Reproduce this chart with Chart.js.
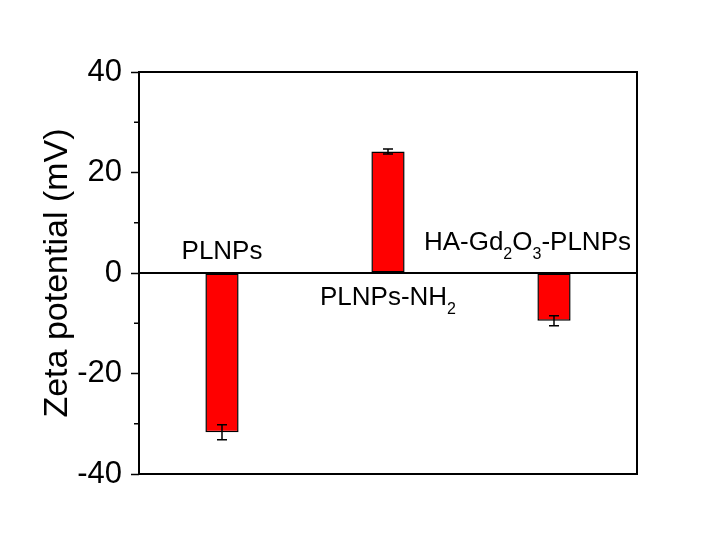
<!DOCTYPE html>
<html>
<head>
<meta charset="utf-8">
<script src="https://cdn.jsdelivr.net/npm/chart.js@4/dist/chart.umd.min.js"></script>
<style>
    html, body { margin: 0; padding: 0; background: #fff; }
    canvas { display: block; }
</style>
</head>
<body>
<canvas id="chart" width="726" height="558"></canvas>
<script>
const categories = ["PLNPs", "PLNPs-NH2", "HA-Gd2O3-PLNPs"];
const zetaValues = [-31.7, 24.2, -9.5];
const zetaErrors = [1.5, 0.5, 1.0];
const minorTicks = [30, 10, -10, -30];

// bar labels as [text, isSubscript] pieces
const labelParts = [
    [["PLNPs", false]],
    [["PLNPs-NH", false], ["2", true]],
    [["HA-Gd", false], ["2", true], ["O", false], ["3", true], ["-PLNPs", false]]
];
const labelX = [0, 1, 1.84]; // category units
const labelY = [2.7, -6.4, 4.5]; // mV, text baseline

const FONT = "'Liberation Sans', Arial, sans-serif";

const decorations = {
    id: "decorations",
    afterDatasetsDraw(chart) {
        const { ctx, chartArea: area, scales: { x, y } } = chart;
        ctx.save();
        ctx.strokeStyle = "#000";
        ctx.fillStyle = "#000";

        // zero line
        const y0 = y.getPixelForValue(0);
        ctx.lineWidth = 2;
        ctx.beginPath();
        ctx.moveTo(area.left, y0);
        ctx.lineTo(area.right, y0);
        ctx.stroke();

        // error bars
        ctx.lineWidth = 1.5;
        zetaValues.forEach((v, i) => {
            const cx = x.getPixelForValue(i);
            const top = y.getPixelForValue(v + zetaErrors[i]);
            const bot = y.getPixelForValue(v - zetaErrors[i]);
            ctx.beginPath();
            ctx.moveTo(cx, top);
            ctx.lineTo(cx, bot);
            ctx.moveTo(cx - 5, top);
            ctx.lineTo(cx + 5, top);
            ctx.moveTo(cx - 5, bot);
            ctx.lineTo(cx + 5, bot);
            ctx.stroke();
        });

        // minor ticks
        minorTicks.forEach((t) => {
            const py = y.getPixelForValue(t);
            ctx.beginPath();
            ctx.moveTo(area.left - 5, py);
            ctx.lineTo(area.left, py);
            ctx.stroke();
        });

        // frame
        ctx.lineWidth = 2;
        ctx.strokeRect(area.left, area.top, area.right - area.left, area.bottom - area.top);

        // bar labels
        ctx.textBaseline = "alphabetic";
        ctx.textAlign = "left";
        labelParts.forEach((parts, i) => {
            const fontFor = (sub) => (sub ? "16px " : "26px ") + FONT;
            let total = 0;
            parts.forEach(([t, sub]) => {
                ctx.font = fontFor(sub);
                total += ctx.measureText(t).width;
            });
            let px = x.getPixelForValue(labelX[i]) - total / 2;
            const base = y.getPixelForValue(labelY[i]);
            parts.forEach(([t, sub]) => {
                ctx.font = fontFor(sub);
                ctx.fillText(t, px, sub ? base + 9 : base);
                px += ctx.measureText(t).width;
            });
        });
        ctx.restore();
    }
};

new Chart(document.getElementById("chart"), {
    type: "bar",
    data: {
        labels: categories,
        datasets: [{
            data: zetaValues,
            backgroundColor: "#ff0000",
            borderColor: "#000",
            borderWidth: 1.5,
            borderSkipped: false,
            barPercentage: 0.2,
            categoryPercentage: 1
        }]
    },
    options: {
        responsive: false,
        animation: false,
        layout: { padding: { top: 72, right: 89, bottom: 84, left: 0 } },
        plugins: {
            legend: { display: false },
            tooltip: { enabled: false }
        },
        scales: {
            x: {
                display: false,
                offset: true
            },
            y: {
                min: -40,
                max: 40,
                afterFit: (scale) => { scale.width = 139; },
                border: { display: false },
                grid: {
                    drawOnChartArea: false,
                    drawTicks: true,
                    tickLength: 8,
                    tickWidth: 1.5,
                    tickColor: "#000"
                },
                ticks: {
                    stepSize: 20,
                    color: "#000",
                    padding: 9,
                    font: { family: FONT, size: 31 }
                },
                title: {
                    display: true,
                    text: "Zeta potential (mV)",
                    color: "#000",
                    font: { family: FONT, size: 34 },
                    padding: { top: 37, bottom: 0 }
                }
            }
        }
    },
    plugins: [decorations]
});
</script>
</body>
</html>
